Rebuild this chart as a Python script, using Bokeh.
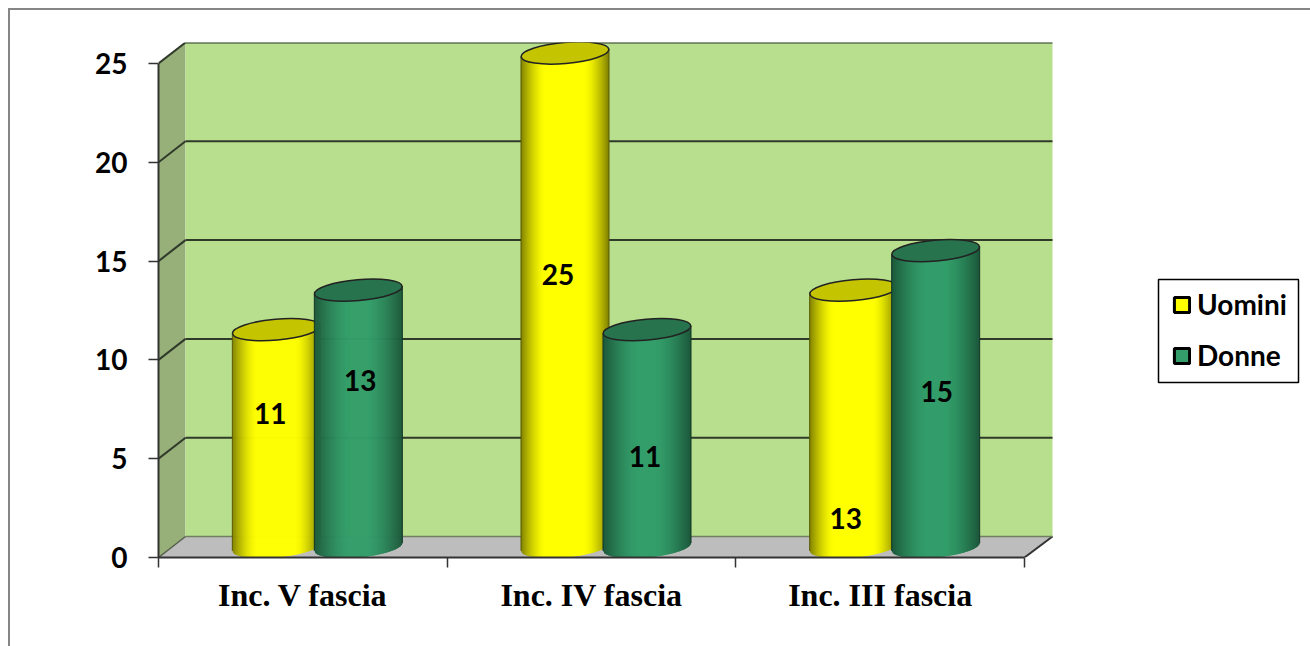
import math
from bokeh.plotting import figure
from bokeh.embed import file_html
from bokeh.resources import INLINE
from bokeh.core.properties import value
from bokeh.models import (LinearAxis, FixedTicker, Range1d, Legend, LegendItem,
                          ColumnDataSource, BoxAnnotation)

categories = ["Inc. V fascia", "Inc. IV fascia", "Inc. III fascia"]
uomini = [11, 25, 13]
donne = [13, 11, 15]
y_ticks = [0, 5, 10, 15, 20, 25]
series_names = ["Uomini", "Donne"]

# pixel geometry of the plot area (canvas coordinates)
W, H = 1310, 646
AX_L, AX_R = 158, 1024      # x = 0 .. 3
AX_T, AX_B = 63, 557        # y = 25 .. 0
DX, DY = 27, 21             # depth offset of the 3D walls
sx = (AX_R - AX_L) / 3.0    # px per category
sy = (AX_B - AX_T) / 25.0   # px per unit
xwall = 3 + (DX + 1) / sx
xmax = (W - AX_L) / sx
ymax = 25 + DY / sy

p = figure(width=W, height=H, output_backend="svg", toolbar_location=None,
           x_range=Range1d(0, xmax), y_range=Range1d(0, ymax),
           x_axis_type=None, y_axis_type=None,
           frame_width=W - AX_L, frame_height=AX_B - AX_T + DY,
           min_border_left=AX_L, min_border_right=0,
           min_border_top=AX_T - DY, min_border_bottom=H - AX_B,
           outline_line_color=None, background_fill_color=None, border_fill_color=None)
p.grid.visible = False
# chart-area frame: only its top and left edges fall inside the picture
p.styles = {"background": "linear-gradient(#868686,#868686) 8px 8px / 100% 2px no-repeat, "
                          "linear-gradient(#868686,#868686) 8px 8px / 2px 100% no-repeat"}

ddx, ddy = DX / sx, DY / sy
# walls
p.patch([0, ddx, ddx, 0], [0, ddy, ymax, 25], fill_color="#97AF78", line_color=None)
p.patch([ddx, xwall, xwall, ddx], [ddy, ddy, ymax, ymax], fill_color="#B8DF8D", line_color=None)
p.patch([0, 3, xwall, ddx], [0, 0, ddy, ddy], fill_color="#BDBDBD", line_color=None)
p.segment([3], [0], [xwall], [ddy], line_color="#333333", line_width=2)
p.segment([ddx], [ddy], [xwall], [ddy], line_color="#6f7f5f", line_width=1.5)
# grid lines on the walls
gt = y_ticks[1:]
p.segment([ddx] * len(gt), [t + ddy for t in gt], [xwall] * len(gt), [t + ddy for t in gt],
          line_color="#2f3a2a", line_width=2)
p.segment([0] * len(gt), gt, [ddx] * len(gt), [t + ddy for t in gt],
          line_color="#2f3a2a", line_width=2)
p.segment([0], [0], [ddx], [ddy], line_color="#55604c", line_width=1.5)


def mix(c, k):
    return "#%02x%02x%02x" % tuple(int(v * k) for v in c)


def shade(u, start, depth):
    t = abs(u)
    return 1.0 if t < start else 1.0 - depth * ((t - start) / (1 - start)) ** 1.5


R, B = 44.0, 10.5
TILT = math.radians(5)


def low_edge(u):
    # pixel offset (upwards positive) of the lower rim of the tilted ellipse
    return -B * math.sqrt(max(0, 1 - u * u)) + u * R * math.tan(TILT)


def cylinder(xc, val, base, top, start, depth):
    cx = xc + ddx / 2
    n = int(R * 2)
    for k in range(n):
        u0 = -1 + 2 * k / n
        u1 = min(1, -1 + 2 * (k + 1.6) / n)
        um = (u0 + u1) / 2
        xs = [cx + u0 * R / sx, cx + u1 * R / sx, cx + u1 * R / sx, cx + u0 * R / sx]
        ys = [val + ddy / 2 + low_edge(u0) / sy, val + ddy / 2 + low_edge(u1) / sy,
              ddy / 2 + low_edge(u1) / sy, ddy / 2 + low_edge(u0) / sy]
        p.patch(xs, ys, fill_color=mix(base, shade(um, start, depth)), line_color=None)
    p.segment([cx - R / sx, cx + R / sx],
              [val + ddy / 2 + low_edge(-1) / sy, val + ddy / 2 + low_edge(1) / sy],
              [cx - R / sx, cx + R / sx],
              [ddy / 2 + low_edge(-1) / sy, ddy / 2 + low_edge(1) / sy],
              line_color=mix(base, 0.35), line_width=1)
    p.ellipse([cx], [val + ddy / 2], width=2 * R, height=2 * B,
              width_units="screen", height_units="screen", angle=TILT,
              fill_color=top, line_color="#222222", line_width=1.5)


GROUP_OFF = 41.0 / sx
SHIFT = 1.0 / sx
for i in range(3):
    cylinder(i + 0.5 - GROUP_OFF + SHIFT, uomini[i], (255, 255, 0), "#C4C400", 0.45, 0.5)
    cylinder(i + 0.5 + GROUP_OFF + SHIFT, donne[i], (51, 158, 106), "#26734D", 0.2, 0.45)

# value labels sit at the reference's heights inside each cylinder
label_y_u = [7.3, 14.3, 1.95]
label_y_d = [8.95, 5.1, 8.4]
label_dpx_u = [-5, -6, -7]
label_dpx_d = [3, -1, 2]
for i in range(3):
    for val, off, ly, ldx in ((uomini[i], -GROUP_OFF, label_y_u[i], label_dpx_u[i]),
                              (donne[i], GROUP_OFF, label_y_d[i], label_dpx_d[i])):
        p.text([i + 0.5 + off + ddx / 2 + ldx / sx], [ly], text=[str(val)],
               text_align="center", text_baseline="middle",
               text_font=value("Lato"), text_font_style="bold", text_font_size="28px",
               text_color="black")

# axes
yaxis = LinearAxis(ticker=FixedTicker(ticks=y_ticks), bounds=(0, 25))
yaxis.axis_line_color = "#333333"
yaxis.axis_line_width = 2
yaxis.major_tick_line_color = "#333333"
yaxis.major_tick_line_width = 1.5
yaxis.major_tick_in = 0
yaxis.major_tick_out = 10
yaxis.minor_tick_line_color = None
yaxis.major_label_standoff = 21
yaxis.major_label_text_font = "Lato"
yaxis.major_label_text_font_style = "bold"
yaxis.major_label_text_font_size = "28px"
yaxis.major_label_text_color = "black"
p.add_layout(yaxis, "left")

xaxis = LinearAxis(ticker=FixedTicker(ticks=[0.5, 1.5, 2.5], minor_ticks=[0, 1, 2, 3]), bounds=(0, 3))
xaxis.major_label_overrides = {0.5: categories[0], 1.5: categories[1], 2.5: categories[2]}
xaxis.axis_line_color = "#333333"
xaxis.axis_line_width = 2
xaxis.major_tick_line_color = None
xaxis.minor_tick_line_color = "#333333"
xaxis.minor_tick_line_width = 1.5
xaxis.minor_tick_in = 0
xaxis.minor_tick_out = 10
xaxis.major_label_standoff = 9
xaxis.major_label_text_font = "Liberation Serif"
xaxis.major_label_text_font_style = "bold"
xaxis.major_label_text_font_size = "32px"
xaxis.major_label_text_color = "black"
p.add_layout(xaxis, "below")

# legend box, drawn separately so that its inner padding can differ per side
p.add_layout(BoxAnnotation(left=1158, right=1298, top=279, bottom=382, left_units="canvas", right_units="canvas",
                           top_units="canvas", bottom_units="canvas", fill_color="white", fill_alpha=1,
                           line_color="black", line_alpha=1, line_width=1.5, level="underlay"))

src = ColumnDataSource(dict(l=[float("nan")], r=[float("nan")], t=[float("nan")], b=[float("nan")]))
r1 = p.quad(left="l", right="r", top="t", bottom="b", source=src, fill_color="#FFFF00", line_color="black", line_width=3)
r2 = p.quad(left="l", right="r", top="t", bottom="b", source=src, fill_color="#339E6A", line_color="black", line_width=3)
legend = Legend(items=[LegendItem(label=series_names[0], renderers=[r1]),
                       LegendItem(label=series_names[1], renderers=[r2])],
                location=(1014, 185))
legend.border_line_color = None
legend.background_fill_alpha = 0
legend.label_text_font = "Lato"
legend.label_text_font_style = "bold"
legend.label_text_font_size = "28px"
legend.label_text_color = "black"
legend.label_height = 18
legend.glyph_width = 19
legend.glyph_height = 19
legend.spacing = 17
legend.margin = 0
legend.padding = 0
legend.label_standoff = 6
p.add_layout(legend, "center")

open("out.html", "w").write(file_html(p, INLINE))
